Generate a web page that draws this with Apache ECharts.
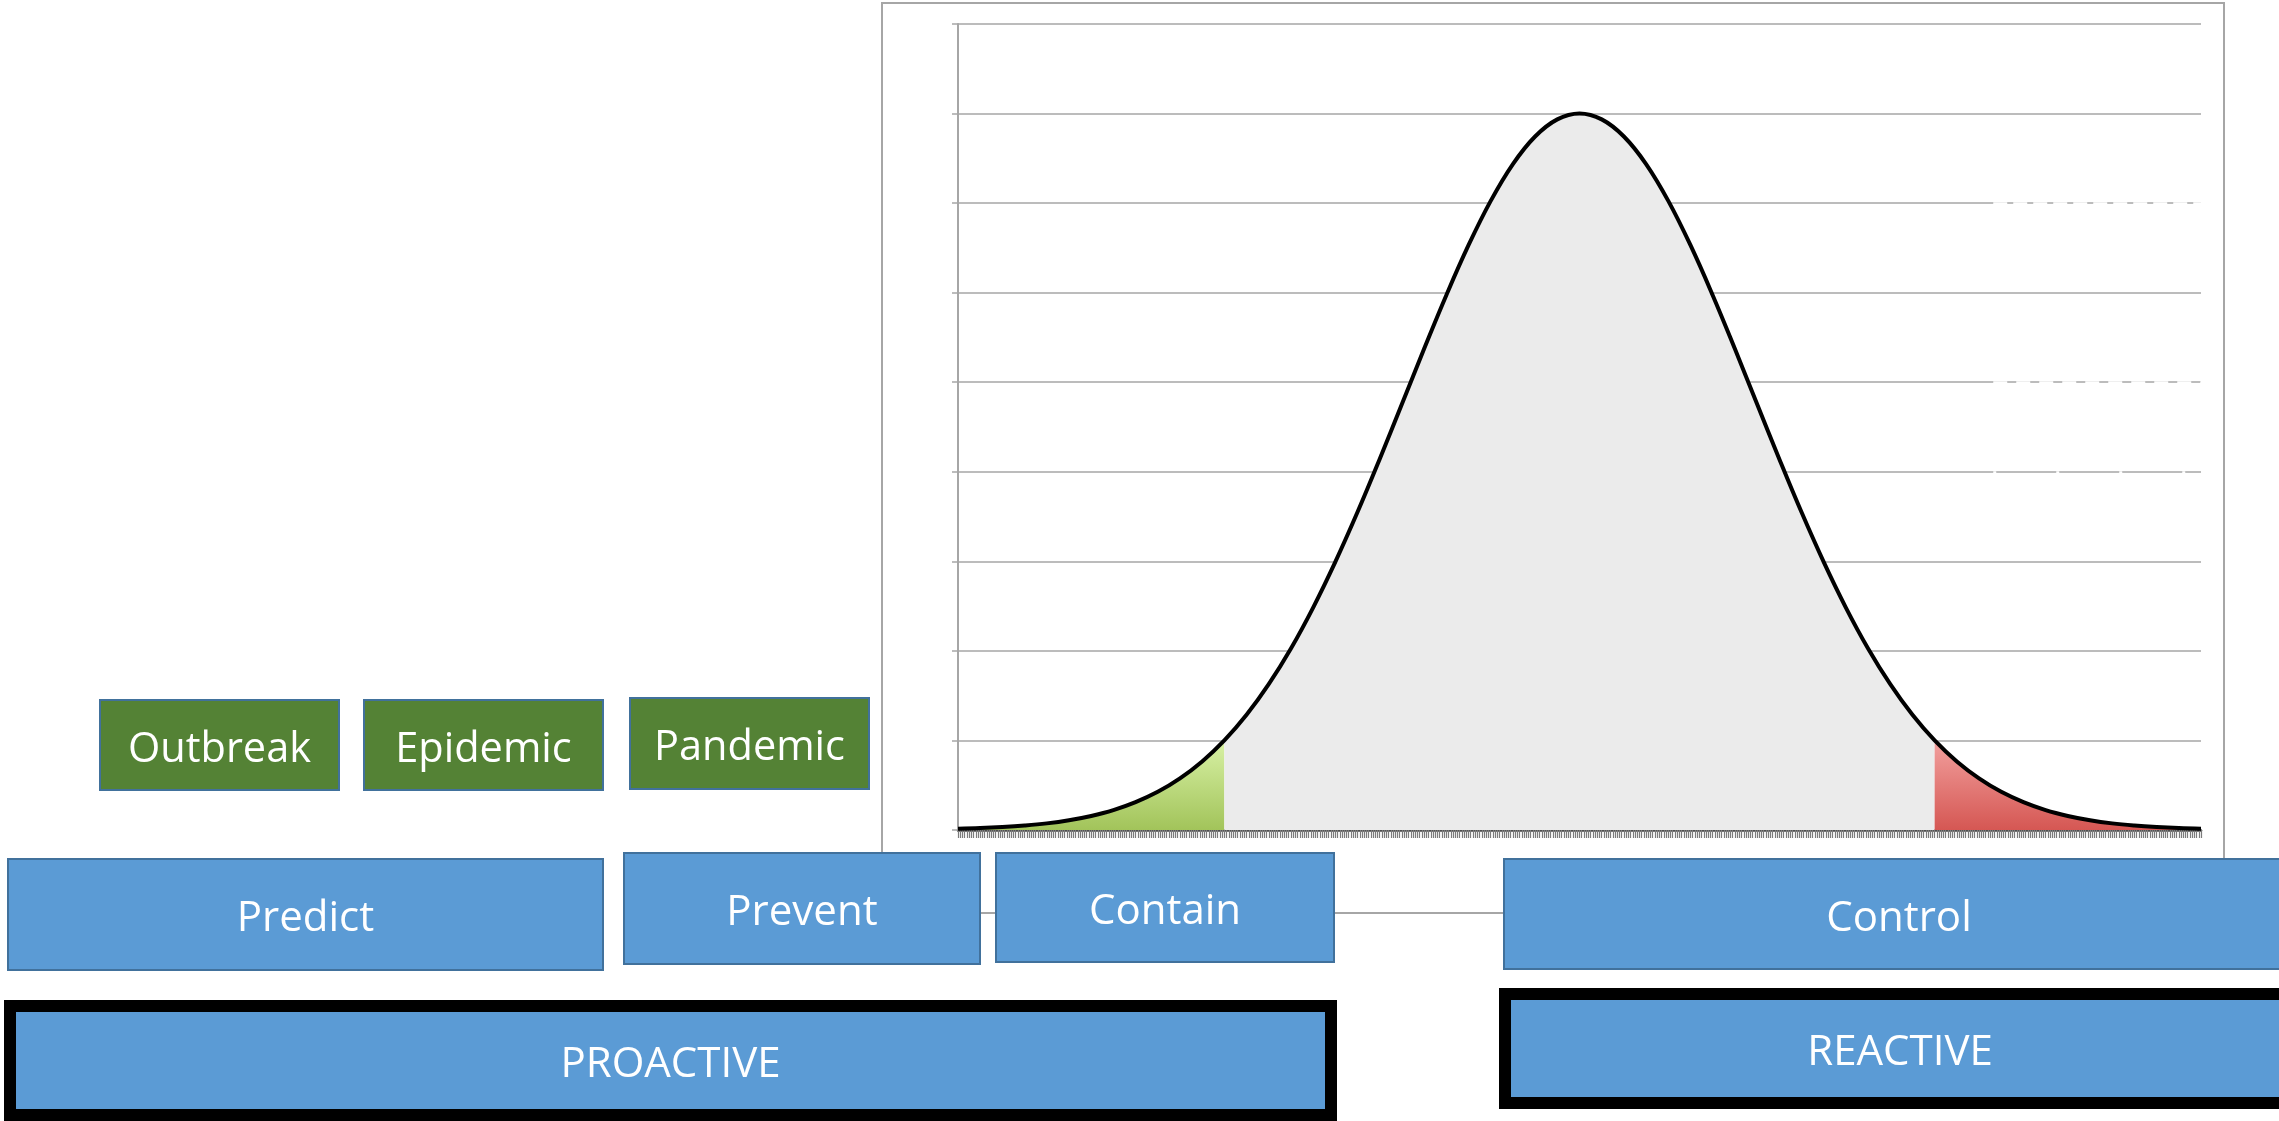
<!DOCTYPE html>
<html>
<head>
<meta charset="utf-8">
<title>Proactive vs Reactive</title>
<script src="https://cdn.jsdelivr.net/npm/echarts@6/dist/echarts.min.js"></script>
<style>
  html, body { margin: 0; padding: 0; background: #ffffff; }
  #chart { width: 2279px; height: 1121px; }
</style>
</head>
<body>
<div id="chart"></div>
<script>
// Bell curve of cases over time (x in spread units, y in case units)
const curveX = [-3.5, -3.375, -3.25, -3.125, -3.0, -2.875, -2.75, -2.625, -2.5, -2.375, -2.25, -2.125,
                -2.0, -1.875, -1.75, -1.625, -1.5, -1.375, -1.25, -1.125, -1.0, -0.875, -0.75, -0.625,
                -0.5, -0.375, -0.25, -0.125, 0,
                0.125, 0.25, 0.375, 0.5, 0.625, 0.75, 0.875, 1.0, 1.125, 1.25, 1.375, 1.5, 1.625,
                1.75, 1.875, 2.0, 2.125, 2.25, 2.375, 2.5, 2.625, 2.75, 2.875, 3.0, 3.125, 3.25, 3.375, 3.5];
const curveY = [0.014, 0.021, 0.033, 0.050, 0.074, 0.109, 0.157, 0.222, 0.311, 0.426, 0.576, 0.765,
                1.0, 1.286, 1.628, 2.027, 2.484, 2.994, 3.55, 4.143, 4.757, 5.373, 5.972, 6.53,
                7.025, 7.436, 7.744, 7.935, 8.0,
                7.935, 7.744, 7.436, 7.025, 6.53, 5.972, 5.373, 4.757, 4.143, 3.55, 2.994, 2.484, 2.027,
                1.628, 1.286, 1.0, 0.765, 0.576, 0.426, 0.311, 0.222, 0.157, 0.109, 0.074, 0.050, 0.033, 0.021, 0.014];
// Where the shaded tails begin
const leftTailEnd = -2.0;
const rightTailStart = 2.0;

// Box captions
const stageLabels = ['Outbreak', 'Epidemic', 'Pandemic'];
const actionLabels = ['Predict', 'Prevent', 'Contain', 'Control'];
const modeLabels = ['PROACTIVE', 'REACTIVE'];

const points = curveX.map((x, i) => [x, curveY[i]]);
const leftTail = points.filter(p => p[0] <= leftTailEnd);
const core = points.filter(p => p[0] >= leftTailEnd && p[0] <= rightTailStart);
const rightTail = points.filter(p => p[0] >= rightTailStart);

const chart = echarts.init(document.getElementById('chart'), null, { renderer: 'canvas' });

const FONT = '"Open Sans", "Noto Sans", sans-serif';
const BLUE = '#5b9bd5';
const BLUE_EDGE = '#41719c';
const GREEN = '#548235';

function box(rect, text, fill, opts) {
  opts = opts || {};
  return {
    type: 'rect',
    z: 10,
    shape: { x: rect[0], y: rect[1], width: rect[2], height: rect[3] },
    style: { fill: fill, stroke: opts.stroke || BLUE_EDGE, lineWidth: opts.lineWidth || 2 },
    textContent: {
      z: 11,
      style: { text: text, fill: '#ffffff', fontSize: opts.fontSize || 42, fontFamily: FONT }
    },
    textConfig: { position: 'inside', offset: [0, 5] }
  };
}

const stageRects = [[100, 700, 239, 90], [364, 700, 239, 90], [630, 698, 239, 91]];
const actionRects = [[8, 859, 595, 111], [624, 853, 356, 111], [996, 853, 338, 109], [1504, 859, 790, 110]];
const modeRects = [[10, 1006, 1321, 109], [1505, 994, 790, 109]];

const graphics = [
  {
    type: 'rect', z: 0,
    shape: { x: 882, y: 3, width: 1342, height: 910 },
    style: { fill: 'none', stroke: '#a6a6a6', lineWidth: 2 }
  }
];
stageLabels.forEach((t, i) => graphics.push(box(stageRects[i], t, GREEN, { fontSize: 41.5 })));
actionLabels.forEach((t, i) => graphics.push(box(actionRects[i], t, BLUE)));
modeLabels.forEach((t, i) => graphics.push(box(modeRects[i], t, BLUE, { stroke: '#000000', lineWidth: 12 })));

const option = {
  animation: false,
  backgroundColor: '#ffffff',
  grid: { left: 958, right: 78, top: 24, bottom: 291, containLabel: false },
  xAxis: {
    type: 'value',
    min: -3.5,
    max: 3.5,
    interval: 0.0125,
    axisLine: { show: true, onZero: false, lineStyle: { color: '#4a4a4a', width: 2.5 } },
    axisTick: { show: true, length: 8, lineStyle: { color: '#7c7c7c', width: 1.2 } },
    axisLabel: { show: false },
    splitLine: { show: false }
  },
  yAxis: {
    type: 'value',
    min: 0,
    max: 9,
    interval: 1,
    axisLine: { show: true, onZero: false, lineStyle: { color: '#a6a6a6', width: 2 } },
    axisTick: { show: true, length: 6, lineStyle: { color: '#a6a6a6', width: 1.5 } },
    axisLabel: { show: false },
    splitLine: { show: true, lineStyle: { color: '#a6a6a6', width: 1.5 } }
  },
  series: [
    {
      name: 'early', type: 'line', smooth: 0.4, symbol: 'none', z: 2,
      data: leftTail,
      lineStyle: { width: 0 },
      areaStyle: {
        opacity: 1,
        color: new echarts.graphic.LinearGradient(0, 0, 0, 1, [
          { offset: 0, color: '#d8f1a5' }, { offset: 1, color: '#a2c45a' }
        ])
      }
    },
    {
      name: 'core', type: 'line', smooth: 0.4, symbol: 'none', z: 2,
      data: core,
      lineStyle: { width: 0 },
      areaStyle: { opacity: 1, color: '#ebebeb' }
    },
    {
      name: 'late', type: 'line', smooth: 0.4, symbol: 'none', z: 2,
      data: rightTail,
      lineStyle: { width: 0 },
      areaStyle: {
        opacity: 1,
        color: new echarts.graphic.LinearGradient(0, 0, 0, 1, [
          { offset: 0, color: '#f2a09e' }, { offset: 1, color: '#d55753' }
        ])
      }
    },
    {
      name: 'cases', type: 'line', smooth: 0.4, symbol: 'none', z: 5,
      data: points,
      lineStyle: { color: '#000000', width: 4 },
      markLine: {
        silent: true, symbol: 'none', label: { show: false },
        data: [
          [{ coord: [2.33, 7], lineStyle: { color: '#ffffff', width: 2.5, type: [14, 6] } }, { coord: [3.5, 7] }],
          [{ coord: [2.33, 5], lineStyle: { color: '#ffffff', width: 2.5, type: [14, 9] } }, { coord: [3.5, 5] }],
          [{ coord: [2.33, 4], lineStyle: { color: '#ffffff', width: 2.5, type: [3, 60] } }, { coord: [3.5, 4] }]
        ]
      }
    }
  ],
  graphic: graphics
};

chart.setOption(option);
</script>
</body>
</html>
